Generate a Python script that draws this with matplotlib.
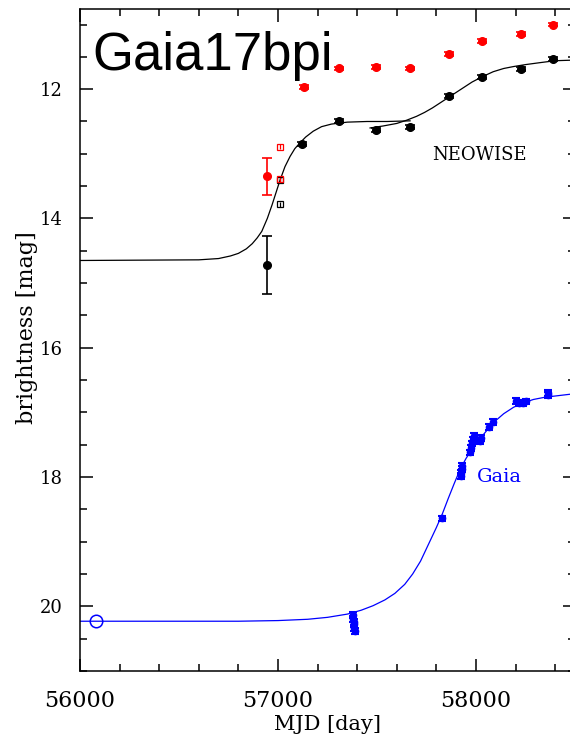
import numpy as np
import matplotlib
matplotlib.use('Agg')
import matplotlib.pyplot as plt
from matplotlib.ticker import MultipleLocator

# NEOWISE W1 (black) and W2 (red)
w1_mjd = [56946, 57123, 57307, 57495, 57665, 57864, 58029, 58226, 58390]
w1_mag = [14.72, 12.85, 12.49, 12.63, 12.58, 12.11, 11.81, 11.69, 11.53]
w1_err = [0.45, 0.03, 0.03, 0.03, 0.03, 0.03, 0.03, 0.03, 0.03]

w2_mjd = [56946, 57131, 57307, 57495, 57665, 57864, 58029, 58226, 58390]
w2_mag = [13.35, 11.97, 11.68, 11.66, 11.68, 11.45, 11.25, 11.15, 11.00]
w2_err = [0.28, 0.03, 0.03, 0.03, 0.03, 0.03, 0.03, 0.03, 0.03]

# open squares
sq_w1_mjd = [57008, 57010]
sq_w1_mag = [13.40, 13.78]
sq_w2_mjd = [57010, 57012]
sq_w2_mag = [12.89, 13.39]
sq_err = 0.04

# Gaia G
gaia_mjd = [57378, 57380, 57382, 57384, 57386, 57388,
            57826,
            57922, 57925, 57927, 57930,
            57972, 57975, 57978, 57985, 57988,
            58022, 58026, 58065, 58085,
            58200, 58215, 58235, 58255,
            58362, 58366]
gaia_mag = [20.14, 20.19, 20.24, 20.28, 20.33, 20.38,
            18.64,
            17.98, 17.93, 17.88, 17.83,
            17.62, 17.55, 17.48, 17.42, 17.37,
            17.45, 17.40, 17.22, 17.15,
            16.82, 16.85, 16.86, 16.83,
            16.70, 16.73]
gaia_err = 0.045
gaia_pre_mjd = [56080]
gaia_pre_mag = [20.23]

# fitted curves
fit1_mjd = [56000, 56600, 56700, 56760, 56800, 56840, 56870, 56895, 56918, 56946,
            56970, 56990, 57010, 57035, 57061, 57085, 57111, 57140, 57178, 57220,
            57270, 57350, 57450, 57550, 57667]
fit1_mag = [14.65, 14.64, 14.62, 14.58, 14.54, 14.47, 14.39, 14.30, 14.20, 14.00,
            13.79, 13.60, 13.41, 13.20, 13.04, 12.92, 12.83, 12.74, 12.65, 12.58,
            12.54, 12.51, 12.50, 12.50, 12.49]
fit2_mjd = [57465, 57530, 57600, 57650, 57700, 57740, 57780, 57820, 57860, 57900,
            57940, 57980, 58030, 58087, 58140, 58190, 58250, 58323, 58400, 58500]
fit2_mag = [12.60, 12.57, 12.53, 12.48, 12.42, 12.36, 12.29, 12.21, 12.13, 12.05,
            11.97, 11.89, 11.81, 11.73, 11.68, 11.65, 11.62, 11.59, 11.56, 11.55]
gfit_mjd = [56000, 56800, 57000, 57150, 57250, 57350, 57420, 57480, 57540, 57590,
            57640, 57680, 57720, 57760, 57800, 57830, 57860, 57890, 57920, 57950,
            57985, 58030, 58087, 58140, 58190, 58240, 58290, 58340, 58390, 58500]
gfit_mag = [20.23, 20.23, 20.22, 20.20, 20.17, 20.12, 20.06, 19.99, 19.90, 19.80,
            19.66, 19.50, 19.30, 19.04, 18.78, 18.57, 18.33, 18.10, 17.88, 17.71,
            17.55, 17.37, 17.16, 17.02, 16.92, 16.85, 16.80, 16.77, 16.75, 16.71]

red = '#ff0000'
blue = '#0000ff'

fig = plt.figure(figsize=(5.7, 7.36), dpi=100)
ax = fig.add_axes([80/570, 65/736, 495/570, 662/736])

ax.plot(fit1_mjd, fit1_mag, color='black', lw=0.9)
ax.plot(fit2_mjd, fit2_mag, color='black', lw=0.9)
ax.plot(gfit_mjd, gfit_mag, color=blue, lw=0.9)

ax.errorbar(w1_mjd, w1_mag, yerr=w1_err, fmt='o', color='black', ms=5.5,
            capsize=3.5, elinewidth=1.2, capthick=1.2)
ax.errorbar(w2_mjd, w2_mag, yerr=w2_err, fmt='o', color=red, ms=5.5,
            capsize=3.5, elinewidth=1.2, capthick=1.2)
ax.errorbar(sq_w1_mjd, sq_w1_mag, yerr=sq_err, fmt='s', color='black', mfc='none',
            ms=5, mew=0.9, capsize=0, elinewidth=0.9)
ax.errorbar(sq_w2_mjd, sq_w2_mag, yerr=sq_err, fmt='s', color=red, mfc='none',
            ms=5, mew=0.9, capsize=0, elinewidth=0.9)
ax.errorbar(gaia_mjd, gaia_mag, yerr=gaia_err, fmt='o', color=blue, ms=4.5,
            capsize=3, elinewidth=1.5, capthick=1.5)
ax.plot(gaia_pre_mjd, gaia_pre_mag, 'o', color=blue, mfc='none', ms=9, mew=1.1)

ax.set_xlim(56000, 58500)
ax.set_ylim(21.0, 10.76)
ax.xaxis.set_major_locator(MultipleLocator(1000))
ax.xaxis.set_minor_locator(MultipleLocator(200))
ax.yaxis.set_major_locator(MultipleLocator(2))
ax.yaxis.set_minor_locator(MultipleLocator(0.5))
ax.tick_params(which='both', direction='in', top=True, right=True, width=1.1)
ax.tick_params(which='major', length=9)
ax.tick_params(which='minor', length=4.8)
ax.tick_params(axis='x', which='major', pad=14, labelsize=16)
ax.tick_params(axis='y', which='major', pad=12.5, labelsize=13)
for lab in ax.get_xticklabels() + ax.get_yticklabels():
    lab.set_family('DejaVu Serif')
for s in ax.spines.values():
    s.set_linewidth(1.1)

ax.set_xlabel('MJD [day]', family='DejaVu Serif', fontsize=15, labelpad=2)
ax.set_ylabel('brightness [mag]', family='DejaVu Serif', fontsize=16)
ax.yaxis.set_label_coords(-0.085, 0.518)

ax.text(0.0245, 0.908, 'Gaia17bpi', transform=ax.transAxes, family='Liberation Sans',
        fontsize=38, va='baseline', ha='left')
ax.text(57776, 13.02, 'NEOWISE', family='DejaVu Serif', fontsize=13, va='center')
ax.text(58003, 18.0, 'Gaia', family='DejaVu Serif', fontsize=14, va='center', color=blue)

fig.savefig('out.png', dpi=100)
